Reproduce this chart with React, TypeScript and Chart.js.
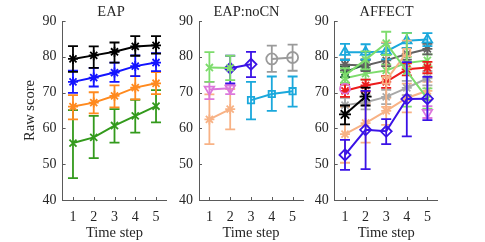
import React, { useEffect, useRef } from "react";
import { Chart, registerables } from "chart.js";

Chart.register(...registerables);

// ---------- shared axes ----------
const timeSteps = ["1", "2", "3", "4", "5"];
const yTicks = [40, 50, 60, 70, 80, 90];

// ---------- EAP ----------
const eapBlackMean = [79.4, 80.4, 81.4, 82.9, 83.2];
const eapBlackLow = [75.8, 76.9, 78.4, 80.3, 80.9];
const eapBlackHigh = [83.0, 82.9, 84.0, 85.8, 85.8];

const eapBlueMean = [73.0, 74.2, 75.6, 77.4, 78.4];
const eapBlueLow = [69.9, 71.7, 73.0, 74.6, 76.0];
const eapBlueHigh = [76.1, 76.9, 78.4, 80.4, 81.0];

const eapOrangeMean = [66.1, 67.2, 69.1, 71.4, 72.6];
const eapOrangeLow = [62.5, 64.2, 65.9, 68.1, 69.6];
const eapOrangeHigh = [69.3, 70.1, 72.0, 74.6, 75.7];

const eapGreenMean = [55.9, 57.5, 60.8, 63.5, 66.2];
const eapGreenLow = [46.1, 51.7, 56.0, 58.8, 61.7];
const eapGreenHigh = [65.1, 63.5, 65.4, 68.0, 70.7];

// ---------- EAP:noCN ----------
const ncGreenMean = [77.0, 76.9, null, null, null];
const ncGreenLow = [73.0, 73.5, null, null, null];
const ncGreenHigh = [81.3, 80.3, null, null, null];

const ncPinkMean = [70.9, 71.2, null, null, null];
const ncPinkLow = [68.2, 69.6, null, null, null];
const ncPinkHigh = [73.0, 72.4, null, null, null];

const ncPeachMean = [62.5, 65.4, null, null, null];
const ncPeachLow = [55.6, 59.7, null, null, null];
const ncPeachHigh = [69.5, 71.0, null, null, null];

const ncVioletMean = [null, 76.8, 77.9, null, null];
const ncVioletLow = [null, 72.6, 74.3, null, null];
const ncVioletHigh = [null, 80.3, 81.4, null, null];

const ncCyanMean = [null, null, 67.9, 69.6, 70.4];
const ncCyanLow = [null, null, 62.5, 64.9, 66.1];
const ncCyanHigh = [null, null, 73.0, 74.5, 74.5];

const ncGrayMean = [null, null, null, 79.4, 79.8];
const ncGrayLow = [null, null, null, 75.8, 76.1];
const ncGrayHigh = [null, null, null, 83.1, 83.4];

// ---------- AFFECT ----------
const afCyanMean = [81.3, 81.3, 81.5, 84.5, 84.8];
const afCyanLow = [79.1, 79.2, 79.3, 82.4, 83.0];
const afCyanHigh = [83.6, 83.5, 83.8, 86.7, 86.6];

const afDarkGrayMean = [77.8, 77.6, 79.0, 80.8, 82.2];
const afDarkGrayLow = [76.2, 76.0, 77.4, 79.2, 80.7];
const afDarkGrayHigh = [79.3, 79.1, 80.6, 82.4, 83.6];

const afDarkGreenMean = [75.8, 77.8, null, null, null];
const afDarkGreenLow = [74.3, 76.3, null, null, null];
const afDarkGreenHigh = [77.3, 79.3, null, null, null];

const afGreenMean = [74.0, 75.3, 76.2, 78.3, 79.0];
const afGreenLow = [72.3, 73.6, 74.5, 76.6, 77.3];
const afGreenHigh = [75.7, 77.0, 77.9, 80.0, 80.7];

const afGreen2Mean = [74.8, 79.2, 83.8, 76.0, 68.3];
const afGreen2Low = [72.8, 76.5, 80.5, 66.1, 65.5];
const afGreen2High = [76.8, 81.5, 87.0, 86.6, 71.2];

const afPeachMean = [58.4, 61.5, 64.9, 68.5, 70.5];
const afPeachLow = [50.4, 56.0, 61.0, 64.5, 68.0];
const afPeachHigh = [66.0, 67.0, 68.5, 72.5, 73.0];

const afPeach2Mean = [null, null, 73.5, 81.2, null];
const afPeach2Low = [null, null, 66.0, 77.0, null];
const afPeach2High = [null, null, 84.0, 84.5, null];

const afRedMean = [70.5, 72.0, 73.0, 76.5, 77.0];
const afRedLow = [68.8, 70.3, 71.3, 74.8, 75.4];
const afRedHigh = [72.2, 73.6, 74.6, 78.2, 78.6];

const afGrayMean = [66.5, 67.3, 68.8, 71.3, 74.0];
const afGrayLow = [64.5, 65.3, 66.8, 69.3, 72.0];
const afGrayHigh = [68.5, 69.3, 70.8, 73.3, 76.0];

const afBlackMean = [63.9, 68.9, null, null, null];
const afBlackLow = [61.1, 66.4, null, null, null];
const afBlackHigh = [66.4, 71.4, null, null, null];

const afPinkCircleMean = [71.1, null, null, null, null];
const afPinkTriMean = [null, null, null, null, 64.4];
const afPinkTriLow = [null, null, null, null, 62.9];
const afPinkTriHigh = [null, null, null, null, 66.2];

const afVioletMean = [52.6, 59.6, 59.2, 68.2, 68.3];
const afVioletLow = [48.4, 48.6, 55.6, 57.8, 62.3];
const afVioletHigh = [56.8, 70.5, 62.6, 78.5, 74.4];

// ---------- styling ----------
const FONT = "'Liberation Serif', 'Times New Roman', serif";
const TEXT = "#262626";
const AXIS = "#5a5a5a";

const C = {
  black: "#000000",
  blue: "#1414ff",
  orange: "#ff8a1f",
  green: "#339a1c",
  lgreen: "#7ddc6c",
  pink: "#dc78dc",
  peach: "#f8b285",
  violet: "#3a12e6",
  cyan: "#1aa8dc",
  gray: "#9a9a9a",
  dgray: "#616161",
  dgreen: "#1f5d3d",
  red: "#ec1c1c",
  mgray: "#a8a8a8",
};

function ds(
  data: (number | null)[],
  low: (number | null)[] | null,
  high: (number | null)[] | null,
  color: string,
  style: string,
  radius = 4.5,
  rotation = 0
) {
  return {
    data,
    yAxisID: "y",
    errLow: low,
    errHigh: high,
    borderColor: color,
    backgroundColor: color,
    borderWidth: 2,
    pointStyle: style,
    pointRadius: radius,
    pointRotation: rotation,
    pointBorderColor: color,
    pointBackgroundColor: "rgba(0,0,0,0)",
    pointBorderWidth: 1.8,
    spanGaps: false,
    tension: 0,
  };
}

const errorBarPlugin = {
  id: "errbars",
  beforeDatasetDraw(chart: any, args: any) {
    const d = chart.data.datasets[args.index];
    if (!d.errLow || !d.errHigh) return;
    const ys = chart.scales.y;
    const ctx = chart.ctx;
    const cap = 5;
    ctx.save();
    ctx.strokeStyle = d.borderColor;
    ctx.lineWidth = 1.8;
    args.meta.data.forEach((pt: any, i: number) => {
      const lo = d.errLow[i];
      const hi = d.errHigh[i];
      if (lo == null || hi == null) return;
      const x = pt.x;
      const y1 = ys.getPixelForValue(lo);
      const y2 = ys.getPixelForValue(hi);
      ctx.beginPath();
      ctx.moveTo(x, y1);
      ctx.lineTo(x, y2);
      ctx.moveTo(x - cap, y1);
      ctx.lineTo(x + cap, y1);
      ctx.moveTo(x - cap, y2);
      ctx.lineTo(x + cap, y2);
      ctx.stroke();
    });
    ctx.restore();
  },
};

const inwardTicksPlugin = {
  id: "inticks",
  afterDraw(chart: any) {
    const { ctx, chartArea } = chart;
    const xs = chart.scales.x;
    const ys = chart.scales.y;
    ctx.save();
    ctx.strokeStyle = AXIS;
    ctx.lineWidth = 1;
    ctx.beginPath();
    yTicks.forEach((v) => {
      const y = Math.round(ys.getPixelForValue(v)) + 0.5;
      ctx.moveTo(chartArea.left, y);
      ctx.lineTo(chartArea.left + 3, y);
    });
    timeSteps.forEach((_, i) => {
      const x = Math.round(xs.getPixelForValue(i)) + 0.5;
      ctx.moveTo(x, chartArea.bottom);
      ctx.lineTo(x, chartArea.bottom - 3);
    });
    ctx.stroke();
    ctx.restore();
  },
};

type PanelCfg = {
  title: string;
  left: number;
  width: number;
  yWidth: number;
  padRight: number;
  yTitle: boolean;
  datasets: any[];
};

function buildConfig(p: PanelCfg): any {
  return {
    type: "line",
    data: { labels: timeSteps, datasets: p.datasets },
    plugins: [errorBarPlugin, inwardTicksPlugin],
    options: {
      animation: false,
      responsive: false,
      devicePixelRatio: 1,
      layout: { padding: 0 },
      plugins: {
        legend: { display: false },
        tooltip: { enabled: false },
        title: {
          display: true,
          text: p.title,
          color: TEXT,
          font: { family: FONT, size: 14.5, weight: "normal" },
          padding: { top: 3.3, bottom: 0.3 },
        },
      },
      scales: {
        x: {
          type: "category",
          offset: true,
          grid: { display: false, drawTicks: false },
          border: { display: true, color: AXIS, width: 1 },
          ticks: {
            color: TEXT,
            font: { family: FONT, size: 14 },
            padding: 9,
            maxRotation: 0,
          },
          title: {
            display: true,
            text: "Time step",
            color: TEXT,
            font: { family: FONT, size: 14.5 },
            padding: { top: 0, bottom: 0 },
          },
          afterFit: (s: any) => {
            s.height = 42;
          },
        },
        y: {
          type: "linear",
          position: "left",
          min: 40,
          max: 90,
          grid: { display: false, drawTicks: false },
          border: { display: true, color: AXIS, width: 1 },
          ticks: {
            stepSize: 10,
            color: TEXT,
            font: { family: FONT, size: 14 },
            padding: 6,
          },
          afterBuildTicks: (s: any) => {
            s.ticks = yTicks.map((v) => ({ value: v }));
          },
          title: {
            display: p.yTitle,
            text: "Raw score",
            color: TEXT,
            font: { family: FONT, size: 14.5 },
            padding: { top: 21, bottom: 0 },
          },
          afterFit: (s: any) => {
            s.width = p.yWidth;
          },
        },
        spacer: {
          type: "linear",
          position: "right",
          display: true,
          grid: { display: false, drawTicks: false },
          border: { display: false },
          ticks: { display: false },
          afterFit: (s: any) => {
            s.width = p.padRight;
          },
        },
      },
    },
  };
}

const panels: PanelCfg[] = [
  {
    title: "EAP",
    left: 0,
    width: 222,
    yWidth: 62.6,
    padRight: 55.6,
    yTitle: true,
    datasets: [
      ds(eapBlackMean, eapBlackLow, eapBlackHigh, C.black, "star", 5),
      ds(eapBlueMean, eapBlueLow, eapBlueHigh, C.blue, "star", 5),
      ds(eapOrangeMean, eapOrangeLow, eapOrangeHigh, C.orange, "star", 5),
      ds(eapGreenMean, eapGreenLow, eapGreenHigh, C.green, "crossRot", 5),
    ],
  },
  {
    title: "EAP:noCN",
    left: 175,
    width: 143,
    yWidth: 24,
    padRight: 15,
    yTitle: false,
    datasets: [
      ds(ncGreenMean, ncGreenLow, ncGreenHigh, C.lgreen, "crossRot", 5),
      ds(ncVioletMean, ncVioletLow, ncVioletHigh, C.violet, "rectRot", 5.5),
      ds(ncPinkMean, ncPinkLow, ncPinkHigh, C.pink, "triangle", 5.5, 180),
      ds(ncPeachMean, ncPeachLow, ncPeachHigh, C.peach, "star", 5),
      ds(ncCyanMean, ncCyanLow, ncCyanHigh, C.cyan, "rect", 4.5),
      ds(ncGrayMean, ncGrayLow, ncGrayHigh, C.gray, "circle", 5.5),
    ],
  },
  {
    title: "AFFECT",
    left: 310,
    width: 153,
    yWidth: 24.7,
    padRight: 25.3,
    yTitle: false,
    datasets: [
      ds(afVioletMean, afVioletLow, afVioletHigh, C.violet, "rectRot", 5.5),
      ds(afBlackMean, afBlackLow, afBlackHigh, C.black, "star", 6),
      ds(afPinkTriMean, afPinkTriLow, afPinkTriHigh, C.pink, "triangle", 5.5, 180),
      ds(afPinkCircleMean, null, null, C.pink, "circle", 5),
      ds(afGreen2Mean, afGreen2Low, afGreen2High, C.lgreen, "crossRot", 5),
      ds(afPeach2Mean, afPeach2Low, afPeach2High, C.peach, "rect", 5),
      ds(afCyanMean, afCyanLow, afCyanHigh, C.cyan, "triangle", 5.5),
      ds(afRedMean, afRedLow, afRedHigh, C.red, "star", 5),
      ds(afDarkGrayMean, afDarkGrayLow, afDarkGrayHigh, C.dgray, "star", 5),
      ds(afDarkGreenMean, afDarkGreenLow, afDarkGreenHigh, C.dgreen, "crossRot", 5),
      ds(afGreenMean, afGreenLow, afGreenHigh, C.lgreen, "crossRot", 5),
      ds(afGrayMean, afGrayLow, afGrayHigh, C.mgray, "star", 5),
      ds(afPeachMean, afPeachLow, afPeachHigh, C.peach, "star", 5),
    ],
  },
];

function Panel({ cfg }: { cfg: PanelCfg }) {
  const ref = useRef<HTMLCanvasElement | null>(null);
  useEffect(() => {
    if (!ref.current) return;
    const chart = new Chart(ref.current, buildConfig(cfg));
    return () => chart.destroy();
  }, [cfg]);
  return (
    <canvas
      ref={ref}
      width={cfg.width}
      height={242}
      style={{
        position: "absolute",
        left: cfg.left,
        top: 0,
        width: cfg.width,
        height: 242,
      }}
    />
  );
}

export default function App() {
  return (
    <div
      style={{
        position: "absolute",
        left: 0,
        top: 0,
        width: 485,
        height: 242,
        background: "#ffffff",
        overflow: "hidden",
      }}
    >
      {panels.map((p) => (
        <Panel key={p.title} cfg={p} />
      ))}
    </div>
  );
}
